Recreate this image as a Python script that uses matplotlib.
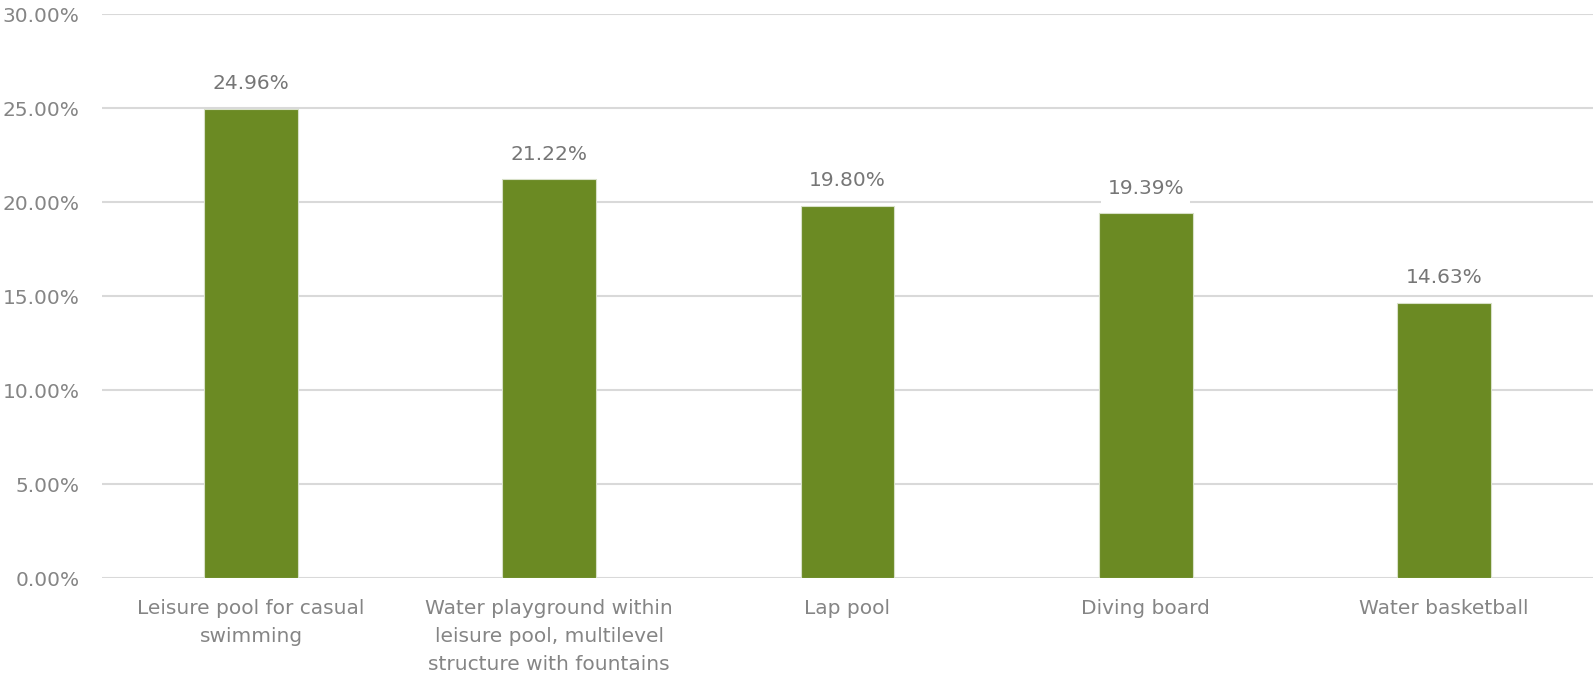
import matplotlib
matplotlib.use("Agg")
import matplotlib.pyplot as plt
from matplotlib.ticker import FuncFormatter, MultipleLocator

categories = [
    "Leisure pool for casual\nswimming",
    "Water playground within\nleisure pool, multilevel\nstructure with fountains",
    "Lap pool",
    "Diving board",
    "Water basketball",
]
values = [24.96, 21.22, 19.80, 19.39, 14.63]

plt.rcParams['font.family'] = ['DejaVu Sans']

fig = plt.figure(figsize=(15.93, 6.81), dpi=100)
ax = fig.add_axes([102/1593, 1-578/681, 1-102/1593, (578-14)/681])

x = list(range(len(categories)))
bars = ax.bar(x, values, width=0.315, color='#6B8A23', edgecolor='#d8e0c8', linewidth=0.8, zorder=3)

ax.set_xlim(-0.5, len(categories)-0.5)
ax.set_ylim(0, 30)
ax.yaxis.set_major_locator(MultipleLocator(5))
ax.yaxis.set_major_formatter(FuncFormatter(lambda v, p: f"{v:.2f}%"))
ax.grid(axis='y', color='#d9d9d9', linewidth=1.5, zorder=0)
ax.set_axisbelow(True)
for s in ax.spines.values():
    s.set_visible(False)
ax.tick_params(axis='both', length=0, labelsize=14.5, labelcolor='#858585')
ax.tick_params(axis='y', pad=16)
ax.tick_params(axis='x', pad=15)
ax.set_xticks(x)
ax.set_xticklabels(categories, linespacing=1.6)

for xi, v in zip(x, values):
    ax.annotate(f"{v:.2f}%", (xi, v), xytext=(0, 18), textcoords='offset points',
                ha='center', va='center', fontsize=14.5, color='#767676', zorder=4,
                bbox=dict(boxstyle='square,pad=0.3', fc='white', ec='none'))

fig.savefig("out.png", dpi=100)
